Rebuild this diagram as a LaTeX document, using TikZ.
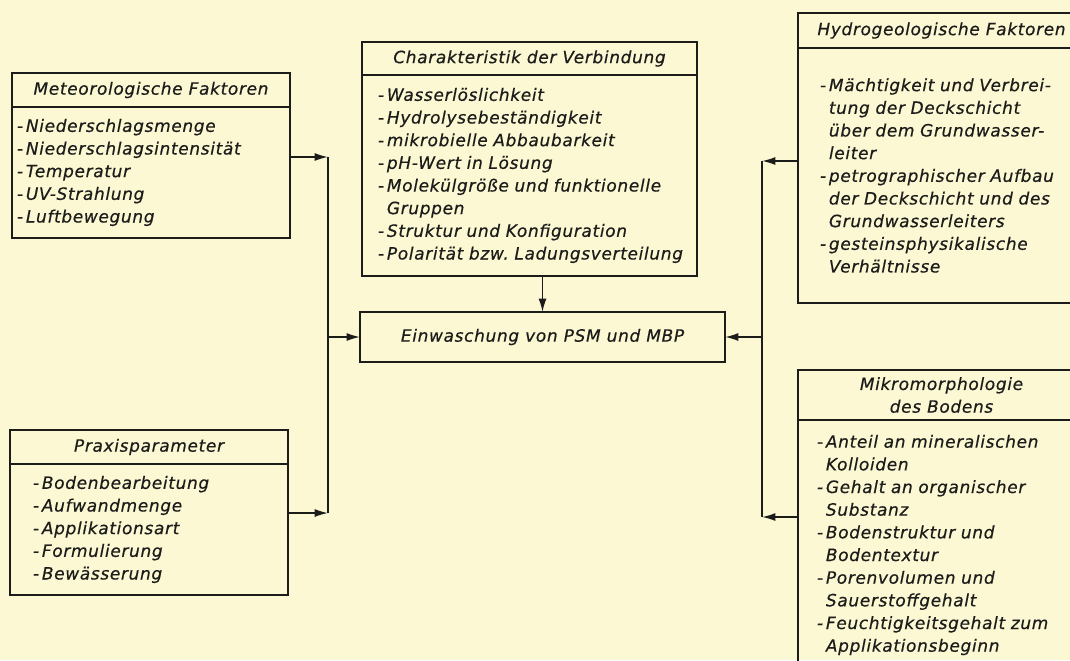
\documentclass[tikz,border=0pt]{standalone}
\usepackage{fontspec}
\setsansfont{DejaVu Sans}[LetterSpace=4, FakeBold=0.5]
\usetikzlibrary{arrows.meta,positioning}

\definecolor{papier}{HTML}{FBF8D3}
\definecolor{tusche}{HTML}{1C1C1A}

\newcommand{\fort}{\hphantom{-\,}}

\begin{document}
\begin{tikzpicture}[
    x=0.75pt, y=-0.75pt,
    >={Latex[length=10pt,width=6pt]},
    every node/.style={font=\sffamily\itshape\fontsize{12.7pt}{17pt}\selectfont\frenchspacing, text=tusche, outer sep=0pt},
    kopf/.style={draw=tusche, line width=1.8pt, align=center, inner sep=0pt},
    liste/.style={draw=tusche, line width=1.8pt, align=left, inner xsep=0pt, inner ysep=0pt},
    haupt/.style={draw=tusche, line width=1.9pt, minimum width=273.75pt, minimum height=37.5pt, inner sep=0pt},
    pfeil/.style={->, draw=tusche, line width=1.2pt},
    bus/.style={draw=tusche, line width=1.2pt},
]
\clip (0,0) rectangle (1070,660);
\fill[papier] (0,0) rectangle (1070,660);

% left boxes
\node[kopf, anchor=north west, minimum width=208.5pt, minimum height=25.5pt] (met) at (12,73)
    {Meteorologische Faktoren};
\node[liste, below=0pt of met, minimum width=208.5pt, text width=208.5pt, minimum height=98.25pt,
      execute at begin node={\leftskip=3.75pt}] (metl)
    {-\,Niederschlagsmenge\\
     -\,Niederschlagsintensität\\
     -\,Temperatur\\
     -\,UV-Strahlung\\
     -\,Luftbewegung};

\node[kopf, anchor=north west, minimum width=208.5pt, minimum height=25.5pt] (prax) at (10,430)
    {Praxisparameter};
\node[liste, below=0pt of prax, minimum width=208.5pt, text width=208.5pt, minimum height=98.25pt,
      execute at begin node={\leftskip=17.25pt}] (praxl)
    {-\,Bodenbearbeitung\\
     -\,Aufwandmenge\\
     -\,Applikationsart\\
     -\,Formulierung\\
     -\,Bewässerung};

% middle
\node[kopf, anchor=north west, minimum width=251.25pt, minimum height=24.75pt] (char) at (362,42)
    {Charakteristik der Verbindung};
\node[liste, below=0pt of char, minimum width=251.25pt, text width=251.25pt, minimum height=150.75pt,
      execute at begin node={\leftskip=12pt}] (charl)
    {-\,Wasserlöslichkeit\\
     -\,Hydrolysebeständigkeit\\
     -\,mikrobielle Abbaubarkeit\\
     -\,pH-Wert in Lösung\\
     -\,Molekülgröße und funktionelle\\
     \fort Gruppen\\
     -\,Struktur und Konfiguration\\
     -\,Polarität bzw. Ladungsverteilung};

\node[haupt] (einw) at (542.5,337) {Einwaschung von PSM und MBP};

% right boxes
\node[kopf, anchor=north west, minimum width=215.25pt, minimum height=26.25pt] (hydro) at (798,13)
    {Hydrogeologische Faktoren};
\node[liste, below=0pt of hydro, minimum width=215.25pt, text width=215.25pt, minimum height=191.25pt,
      execute at begin node={\leftskip=16.5pt}] (hydrol)
    {-\,Mächtigkeit und Verbrei-\\
     \fort tung der Deckschicht\\
     \fort über dem Grundwasser-\\
     \fort leiter\\
     -\,petrographischer Aufbau\\
     \fort der Deckschicht und des\\
     \fort Grundwasserleiters\\
     -\,gesteinsphysikalische\\
     \fort Verhältnisse};

\node[kopf, anchor=north west, minimum width=215.25pt, minimum height=37.5pt] (mikro) at (798,370)
    {Mikromorphologie\\des Bodens};
\node[liste, below=0pt of mikro, minimum width=215.25pt, text width=215.25pt, minimum height=187.5pt,
      execute at begin node={\leftskip=14.25pt}] (mikrol)
    {-\,Anteil an mineralischen\\
     \fort Kolloiden\\
     -\,Gehalt an organischer\\
     \fort Substanz\\
     -\,Bodenstruktur und\\
     \fort Bodentextur\\
     -\,Porenvolumen und\\
     \fort Sauerstoffgehalt\\
     -\,Feuchtigkeitsgehalt zum\\
     \fort Applikationsbeginn};

% connectors
\coordinate (lo) at (328,157);
\coordinate (lu) at (328,513);
\draw[pfeil] (lo -| metl.east) -- (lo);
\draw[pfeil] (lu -| praxl.east) -- (lu);
\draw[bus] (lo) -- (lu);
\draw[pfeil] (einw.west -| lo) -- (einw.west);

\draw[pfeil] (einw.north |- charl.south) -- (einw.north);

\coordinate (ro) at (762,161);
\coordinate (ru) at (762,517);
\draw[pfeil] (ro -| hydrol.west) -- (ro);
\draw[pfeil] (ru -| mikrol.west) -- (ru);
\draw[bus] (ro) -- (ru);
\draw[pfeil] (einw.east -| ro) -- (einw.east);

\end{tikzpicture}
\end{document}
